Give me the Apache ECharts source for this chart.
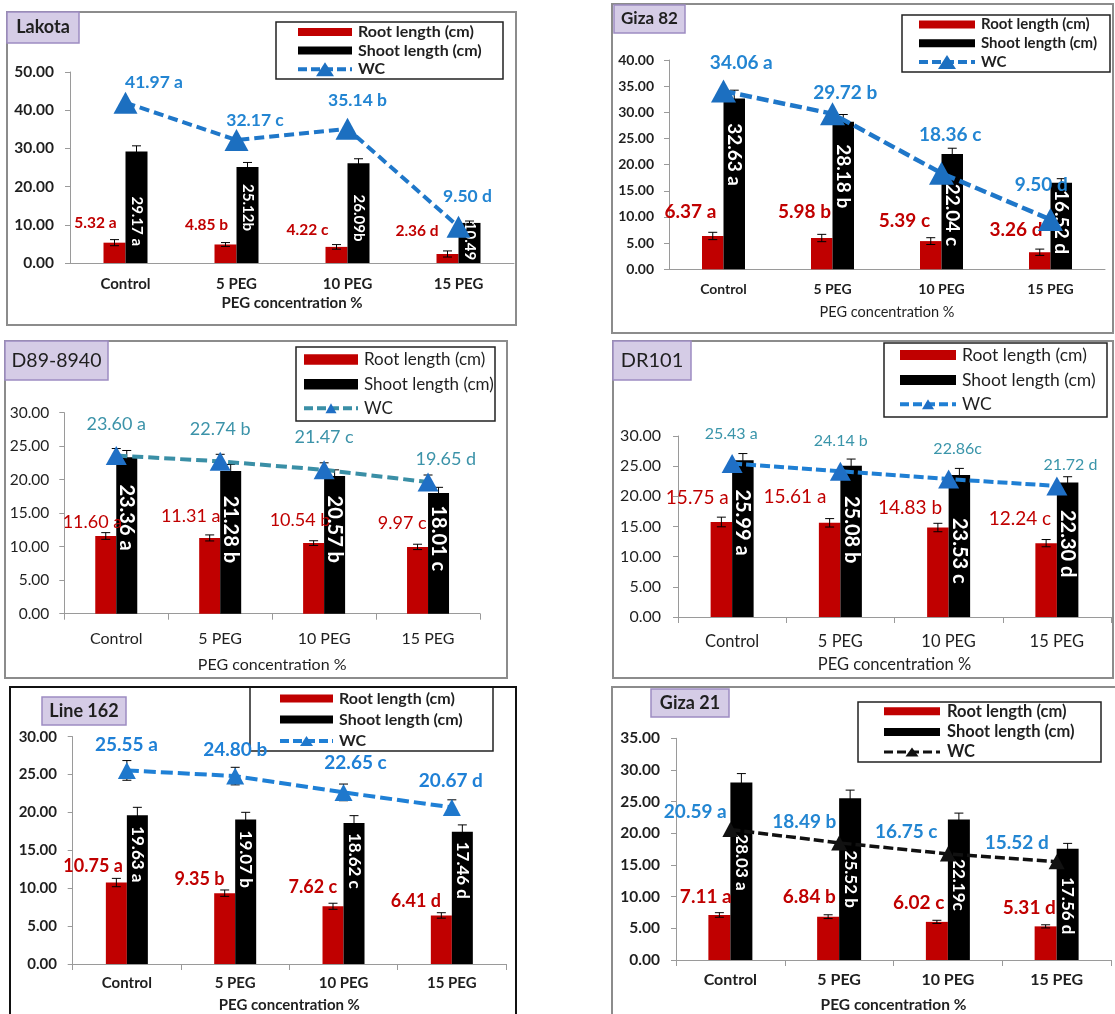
<!DOCTYPE html>
<html>
<head>
<meta charset="utf-8">
<title>Root length, shoot length and WC under PEG</title>
<script src="https://cdn.jsdelivr.net/npm/echarts/dist/echarts.min.js"></script>
<style>
  html, body { margin: 0; padding: 0; background: #fff; }
  #chart { width: 1115px; height: 1014px; }
</style>
</head>
<body>
<div id="chart"></div>
<script>
var FONT = 'Lato, "Open Sans", "Liberation Sans", sans-serif';
var RED = '#c00000';
var AXIS = '#9a9a9a';
var INK = '#1f1f1f';

// ---- data ----
var categories = ['Control', '5 PEG', '10 PEG', '15 PEG'];
var xAxisName = 'PEG concentration %';
var seriesNames = ['Root length (cm)', 'Shoot length (cm)', 'WC'];

var lakotaRoot = [5.32, 4.85, 4.22, 2.36];
var lakotaShoot = [29.17, 25.12, 26.09, 10.49];
var lakotaWC = [41.97, 32.17, 35.14, 9.50];
var lakotaRootErr = [0.8, 0.5, 0.6, 0.8];
var lakotaShootErr = [1.5, 1.2, 1.2, 0.5];
var lakotaRootSig = [' a', ' b', ' c', ' d'];
var lakotaShootSig = [' a', 'b', 'b', ''];
var lakotaWCSig = [' a', ' c', ' b', ' d'];

var giza82Root = [6.37, 5.98, 5.39, 3.26];
var giza82Shoot = [32.63, 28.18, 22.04, 16.52];
var giza82WC = [34.06, 29.72, 18.36, 9.50];
var giza82RootErr = [0.7, 0.7, 0.65, 0.6];
var giza82ShootErr = [1.6, 1.4, 1.1, 0.8];
var giza82RootSig = [' a', ' b', ' c', ' d'];
var giza82ShootSig = [' a', ' b', ' c', ' d'];
var giza82WCSig = [' a', ' b', ' c', ' d'];

var d89Root = [11.60, 11.31, 10.54, 9.97];
var d89Shoot = [23.36, 21.28, 20.57, 18.01];
var d89WC = [23.60, 22.74, 21.47, 19.65];
var d89RootErr = [0.5, 0.45, 0.35, 0.4];
var d89ShootErr = [1.0, 1.0, 0.9, 0.85];
var d89WCErr = [1.05, 1.05, 1.05, 1.05];
var d89RootSig = [' a', ' a', ' b', ' c'];
var d89ShootSig = [' a', ' b', ' b', ' c'];
var d89WCSig = [' a', ' b', ' c', ' d'];

var dr101Root = [15.75, 15.61, 14.83, 12.24];
var dr101Shoot = [25.99, 25.08, 23.53, 22.30];
var dr101WC = [25.43, 24.14, 22.86, 21.72];
var dr101RootErr = [0.8, 0.7, 0.7, 0.6];
var dr101ShootErr = [1.1, 1.1, 1.1, 0.95];
var dr101RootSig = [' a', ' a', ' b', ' c'];
var dr101ShootSig = [' a', ' b', ' c', ' d'];
var dr101WCSig = [' a', ' b', 'c', ' d'];

var line162Root = [10.75, 9.35, 7.62, 6.41];
var line162Shoot = [19.63, 19.07, 18.62, 17.46];
var line162WC = [25.55, 24.80, 22.65, 20.67];
var line162RootErr = [0.55, 0.42, 0.4, 0.36];
var line162ShootErr = [1.05, 0.95, 0.96, 0.9];
var line162WCErr = [1.3, 1.16, 1.1, 1.0];
var line162RootSig = [' a', ' b', ' c', ' d'];
var line162ShootSig = [' a', ' b', ' c', ' d'];
var line162WCSig = [' a', ' b', ' c', ' d'];

var giza21Root = [7.11, 6.84, 6.02, 5.31];
var giza21Shoot = [28.03, 25.52, 22.19, 17.56];
var giza21WC = [20.59, 18.49, 16.75, 15.52];
var giza21RootErr = [0.36, 0.3, 0.25, 0.25];
var giza21ShootErr = [1.4, 1.3, 1.0, 0.85];
var giza21RootSig = [' a', ' b', ' c', ' d'];
var giza21ShootSig = [' a', ' b', 'c', ' d'];
var giza21WCSig = [' a', ' b', ' c', ' d'];

// ---- panel layout ----
var panels = [
  {
    title: 'Lakota', root: lakotaRoot, shoot: lakotaShoot, wc: lakotaWC,
    rootErr: lakotaRootErr, shootErr: lakotaShootErr, wcErr: null,
    rootSig: lakotaRootSig, shootSig: lakotaShootSig, wcSig: lakotaWCSig,
    yMax: 50, yStep: 10,
    frame: [7, 12, 509, 313], frameColor: '#8c8c8c',
    titleBox: [7, 12, 72, 31], titleFont: 18, titleWeight: 'bold',
    grid: [70, 72, 444, 191],
    yFont: 15.5, yWeight: 'bold', yMargin: 16,
    xFont: 15, xWeight: 'bold', xMargin: 13.5, xTicks: false,
    nameFont: 15, nameWeight: 'bold', nameGap: 32.5,
    barW: 22,
    wcLine: '#1f77c9', wcMarker: '#1c6fc0', wcText: '#2385d2', wcWidth: 4, wcDash: [10, 5], sym: [24, 22],
    wcFont: 17.5, wcWeight: 'bold', wcOff: [[28.5, -20.4], [18.5, -20], [10, -28], [9, -30]],
    rootFont: 15.5, rootWeight: 'bold', rootOff: [[-19, -20], [-19, -19], [-29, -17], [-30.5, -23]],
    shootFont: 15, shootDy: [69.7, 40.5, 54.7, 18],
    legBox: [276, 22, 227, 57], legX: 298, legW: 54, legH: 8, legRows: [32, 50.5, 69.3], legTextX: 358,
    legFont: 16, legWeight: 'bold', legTri: [18, 14], legDash: [9, 4], legLineW: 4
  },
  {
    title: 'Giza 82', root: giza82Root, shoot: giza82Shoot, wc: giza82WC,
    rootErr: giza82RootErr, shootErr: giza82ShootErr, wcErr: null,
    rootSig: giza82RootSig, shootSig: giza82ShootSig, wcSig: giza82WCSig,
    yMax: 40, yStep: 5,
    frame: [612, 4, 501, 329], frameColor: '#8c8c8c',
    titleBox: [614, 5, 71, 28], titleFont: 17, titleWeight: 'bold',
    grid: [669, 60, 436, 209.3],
    yFont: 14, yWeight: 'bold', yMargin: 15,
    xFont: 14, xWeight: 'bold', xMargin: 13, xTicks: false,
    nameFont: 14.5, nameWeight: 'normal', nameGap: 35.7,
    barW: 21.5,
    wcLine: '#1f77c9', wcMarker: '#1c6fc0', wcText: '#2385d2', wcWidth: 4.5, wcDash: [12, 5], sym: [25, 23],
    wcFont: 19, wcWeight: 'bold', wcOff: [[17.8, -27.8], [12.7, -20.5], [8.7, -38.2], [-9.2, -34.6]],
    rootFont: 19, rootWeight: 'bold', rootOff: [[-22.3, -24.3], [-17.2, -25.7], [-26.3, -20.4], [-23.8, -22.2]],
    shootFont: 19, shootDy: [56, 54.4, 61, 39.2],
    legBox: [902, 15, 208, 57], legX: 919, legW: 56, legH: 8, legRows: [24.5, 43.3, 62], legTextX: 981,
    legFont: 15, legWeight: 'bold', legTri: [18, 14], legDash: [9, 4], legLineW: 4
  },
  {
    title: 'D89-8940', root: d89Root, shoot: d89Shoot, wc: d89WC,
    rootErr: d89RootErr, shootErr: d89ShootErr, wcErr: d89WCErr,
    rootSig: d89RootSig, shootSig: d89ShootSig, wcSig: d89WCSig,
    yMax: 30, yStep: 5,
    frame: [5, 341, 502, 337], frameColor: '#8c8c8c',
    titleBox: [5, 341, 103, 39], titleFont: 19.5, titleWeight: 'normal',
    grid: [64.3, 412.7, 415.7, 201],
    yFont: 15.5, yWeight: 'normal', yMargin: 15,
    xFont: 16, xWeight: 'normal', xMargin: 17.6, xTicks: true,
    nameFont: 16, nameWeight: 'normal', nameGap: 43.3,
    barW: 21,
    wcLine: '#3a8fa6', wcMarker: '#1f6fc5', wcText: '#3c93a9', wcWidth: 4, wcDash: [11, 5], sym: [21, 19],
    wcFont: 18, wcWeight: 'normal', wcOff: [[0, -31.3], [0, -32], [0, -32.6], [17.8, -22.7]],
    rootFont: 18, rootWeight: 'normal', rootOff: [[-13.3, -13.3], [-19, -21.9], [-13.6, -23.1], [-15.3, -23.6]],
    shootFont: 20, shootDy: [60.3, 58.2, 53.4, 45.3],
    legBox: [296, 347, 199, 74], legX: 304, legW: 54, legH: 10.5, legRows: [359.5, 384.2, 408.3], legTextX: 364,
    legFont: 17, legWeight: 'normal', legTri: [11, 10], legDash: [9, 4], legLineW: 4
  },
  {
    title: 'DR101', root: dr101Root, shoot: dr101Shoot, wc: dr101WC,
    rootErr: dr101RootErr, shootErr: dr101ShootErr, wcErr: null,
    rootSig: dr101RootSig, shootSig: dr101ShootSig, wcSig: dr101WCSig,
    yMax: 30, yStep: 5,
    frame: [613, 341, 500, 337], frameColor: '#8c8c8c',
    titleBox: [613, 341, 78, 39], titleFont: 20, titleWeight: 'normal',
    grid: [678, 436, 433, 181],
    yFont: 16, yWeight: 'normal', yMargin: 17,
    xFont: 16.5, xWeight: 'normal', xMargin: 16.4, xTicks: true,
    nameFont: 16.5, nameWeight: 'normal', nameGap: 39,
    barW: 21.5,
    wcLine: '#1f7fd4', wcMarker: '#1f6fc5', wcText: '#3a95aa', wcWidth: 4, wcDash: [10, 4], sym: [21, 19],
    wcFont: 16, wcWeight: 'normal', wcOff: [[-1, -29.6], [0.4, -30.4], [9, -29.8], [13.6, -21]],
    rootFont: 19, rootWeight: 'normal', rootOff: [[-24.1, -23.7], [-34.7, -25.5], [-27.8, -19.2], [-26.2, -23.9]],
    shootFont: 20, shootDy: [62.3, 64, 75.8, 61.2],
    legBox: [884, 343, 223, 74], legX: 900, legW: 56, legH: 10, legRows: [355, 380, 404.3], legTextX: 962,
    legFont: 17.5, legWeight: 'normal', legTri: [12, 10], legDash: [9, 4], legLineW: 4
  },
  {
    title: 'Line 162', root: line162Root, shoot: line162Shoot, wc: line162WC,
    rootErr: line162RootErr, shootErr: line162ShootErr, wcErr: line162WCErr,
    rootSig: line162RootSig, shootSig: line162ShootSig, wcSig: line162WCSig,
    yMax: 30, yStep: 5,
    frame: [10, 687, 506, 340], frameColor: '#111111',
    titleBox: [42, 697, 84, 28], titleFont: 18, titleWeight: 'bold',
    grid: [72.7, 736.7, 433.3, 227.3],
    yFont: 15, yWeight: 'bold', yMargin: 15.7,
    xFont: 15, xWeight: 'bold', xMargin: 11.8, xTicks: true,
    nameFont: 15, nameWeight: 'bold', nameGap: 33.5,
    barW: 21,
    wcLine: '#1f80d6', wcMarker: '#1f78cc', wcText: '#1f80d6', wcWidth: 4, wcDash: [12, 5], sym: [18, 17],
    wcFont: 19, wcWeight: 'bold', wcOff: [[-0.5, -26], [0, -26], [12, -29.7], [-1, -26.7]],
    rootFont: 18, rootWeight: 'bold', rootOff: [[-23.3, -16.8], [-25.2, -14.1], [-20.2, -18.6], [-25.5, -14.4]],
    shootFont: 17, shootDy: [39, 39.7, 37.9, 38.6],
    legBox: [250, 687, 243, 64], legX: 280, legW: 53, legH: 8, legRows: [698.5, 719.5, 741], legTextX: 339,
    legFont: 16, legWeight: 'bold', legTri: [13, 10], legDash: [9, 4], legLineW: 4
  },
  {
    title: 'Giza 21', root: giza21Root, shoot: giza21Shoot, wc: giza21WC,
    rootErr: giza21RootErr, shootErr: giza21ShootErr, wcErr: null,
    rootSig: giza21RootSig, shootSig: giza21ShootSig, wcSig: giza21WCSig,
    yMax: 35, yStep: 5,
    frame: [612, 687, 510, 340], frameColor: '#8c8c8c',
    titleBox: [651, 689, 78, 28], titleFont: 18, titleWeight: 'bold',
    grid: [676, 738.3, 435, 221.7],
    yFont: 15.5, yWeight: 'bold', yMargin: 16,
    xFont: 16, xWeight: 'bold', xMargin: 12, xTicks: true,
    nameFont: 15.5, nameWeight: 'bold', nameGap: 37,
    barW: 22,
    wcLine: '#111111', wcMarker: '#111111', wcText: '#2386d2', wcWidth: 3.5, wcDash: [10, 4], sym: [16, 15],
    wcFont: 19, wcWeight: 'bold', wcOff: [[-35.1, -17.3], [-34.8, -21.2], [-41.6, -21.6], [-39.9, -18.4]],
    rootFont: 19, rootWeight: 'bold', rootOff: [[-13.6, -17.7], [-18.8, -19.4], [-18.2, -19.2], [-16.3, -18.7]],
    shootFont: 17, shootDy: [80, 80.8, 65.5, 57],
    legBox: [858, 702, 243, 60], legX: 884, legW: 56, legH: 8, legRows: [711.3, 732, 752], legTextX: 947,
    legFont: 16.5, legWeight: 'bold', legTri: [13, 9], legDash: [9, 4], legLineW: 3
  }
];

function fmt(v) { return v.toFixed(2); }

function errorSeries(k, values, errs, shift, z) {
  return {
    type: 'custom', xAxisIndex: k, yAxisIndex: k, z: z, silent: true,
    data: values.map(function (v, i) { return [i, v - errs[i], v + errs[i]]; }),
    encode: { x: 0, y: [1, 2] },
    renderItem: function (params, api) {
      var lo = api.coord([api.value(0), api.value(1)]);
      var hi = api.coord([api.value(0), api.value(2)]);
      var x = lo[0] + shift, cap = 4.5;
      var st = { stroke: '#000', lineWidth: 1 };
      return {
        type: 'group', children: [
          { type: 'line', shape: { x1: x, y1: lo[1], x2: x, y2: hi[1] }, style: st },
          { type: 'line', shape: { x1: x - cap, y1: hi[1], x2: x + cap, y2: hi[1] }, style: st },
          { type: 'line', shape: { x1: x - cap, y1: lo[1], x2: x + cap, y2: lo[1] }, style: st }
        ]
      };
    }
  };
}

function txt(x, y, s, size, weight, color, align, z) {
  return {
    type: 'text', x: x, y: y, z: z || 102, silent: true,
    style: { text: s, fill: color || INK, fontSize: size, fontWeight: weight, fontFamily: FONT,
             align: align || 'left', verticalAlign: 'middle' }
  };
}

var option = { animation: false, grid: [], xAxis: [], yAxis: [], series: [], graphic: [] };

panels.forEach(function (p, k) {
  option.grid.push({ left: p.grid[0], top: p.grid[1], width: p.grid[2], height: p.grid[3],
                     containLabel: false, outerBoundsMode: 'none' });
  option.xAxis.push({
    type: 'category', gridIndex: k, data: categories,
    axisLine: { lineStyle: { color: AXIS, width: 1 } },
    axisTick: { show: p.xTicks, length: 6, lineStyle: { color: AXIS } },
    axisLabel: { interval: 0, color: INK, fontSize: p.xFont, fontWeight: p.xWeight, fontFamily: FONT, margin: p.xMargin },
    name: xAxisName, nameLocation: 'middle', nameGap: p.nameGap,
    nameTextStyle: { color: INK, fontSize: p.nameFont, fontWeight: p.nameWeight, fontFamily: FONT }
  });
  option.yAxis.push({
    type: 'value', gridIndex: k, min: 0, max: p.yMax, interval: p.yStep,
    axisLine: { show: true, lineStyle: { color: AXIS, width: 1 } },
    axisTick: { show: true, length: 5, lineStyle: { color: AXIS } },
    splitLine: { show: false },
    axisLabel: { formatter: fmt, color: INK, fontSize: p.yFont, fontWeight: p.yWeight, fontFamily: FONT, margin: p.yMargin }
  });

  option.series.push({
    type: 'bar', name: seriesNames[0], xAxisIndex: k, yAxisIndex: k, z: 2,
    barWidth: p.barW, barGap: '0%',
    itemStyle: { color: RED },
    label: {
      show: true, position: ['50%', 0], align: 'center', verticalAlign: 'middle',
      color: RED, fontSize: p.rootFont, fontWeight: p.rootWeight, fontFamily: FONT,
      formatter: function (prm) { return fmt(prm.value) + p.rootSig[prm.dataIndex]; }
    },
    data: p.root.map(function (v, i) { return { value: v, label: { offset: p.rootOff[i] } }; })
  });
  option.series.push({
    type: 'bar', name: seriesNames[1], xAxisIndex: k, yAxisIndex: k, z: 2,
    barWidth: p.barW, barGap: '0%',
    itemStyle: { color: '#000' },
    label: {
      show: true, align: 'center', verticalAlign: 'middle', rotate: -90,
      color: '#fff', fontSize: p.shootFont, fontWeight: 'bold', fontFamily: FONT,
      formatter: function (prm) { return fmt(prm.value) + p.shootSig[prm.dataIndex]; }
    },
    data: p.shoot.map(function (v, i) { return { value: v, label: { position: ['50%', p.shootDy[i]] } }; })
  });
  option.series.push(errorSeries(k, p.root, p.rootErr, -p.barW / 2, 2.5));
  option.series.push(errorSeries(k, p.shoot, p.shootErr, p.barW / 2, 2.5));
  if (p.wcErr) option.series.push(errorSeries(k, p.wc, p.wcErr, 0, 2.8));
  option.series.push({
    type: 'line', name: seriesNames[2], xAxisIndex: k, yAxisIndex: k, z: 3,
    symbol: 'triangle', symbolSize: p.sym, showSymbol: true,
    itemStyle: { color: p.wcMarker },
    lineStyle: { color: p.wcLine, width: p.wcWidth, type: p.wcDash },
    label: {
      show: true, position: 'inside', align: 'center', verticalAlign: 'middle',
      color: p.wcText, fontSize: p.wcFont, fontWeight: p.wcWeight, fontFamily: FONT,
      formatter: function (prm) { return fmt(prm.value) + p.wcSig[prm.dataIndex]; }
    },
    emphasis: { disabled: true },
    data: p.wc.map(function (v, i) { return { value: v, label: { offset: p.wcOff[i] } }; })
  });

  // frame, title box, legend
  var g = option.graphic;
  g.push({ type: 'rect', z: 100, silent: true,
           shape: { x: p.frame[0], y: p.frame[1], width: p.frame[2], height: p.frame[3] },
           style: { fill: 'none', stroke: p.frameColor, lineWidth: 2 } });
  var tb = p.titleBox;
  g.push({ type: 'rect', z: 101, silent: true,
           shape: { x: tb[0], y: tb[1], width: tb[2], height: tb[3] },
           style: { fill: '#d5cce6', stroke: '#9d8cc2', lineWidth: 1.5 } });
  g.push(txt(tb[0] + tb[2] / 2, tb[1] + tb[3] / 2, p.title, p.titleFont, p.titleWeight, INK, 'center'));

  var lb = p.legBox;
  g.push({ type: 'rect', z: 1, silent: true,
           shape: { x: lb[0], y: lb[1], width: lb[2], height: lb[3] },
           style: { fill: '#fff', stroke: '#222', lineWidth: 1.5 } });
  var r = p.legRows;
  g.push({ type: 'rect', z: 1, silent: true,
           shape: { x: p.legX, y: r[0] - p.legH / 2, width: p.legW, height: p.legH }, style: { fill: RED } });
  g.push({ type: 'rect', z: 1, silent: true,
           shape: { x: p.legX, y: r[1] - p.legH / 2, width: p.legW, height: p.legH }, style: { fill: '#000' } });
  g.push({ type: 'line', z: 1, silent: true,
           shape: { x1: p.legX, y1: r[2], x2: p.legX + p.legW, y2: r[2] },
           style: { stroke: p.wcLine, lineWidth: p.legLineW, lineDash: p.legDash } });
  var cx = p.legX + p.legW / 2, tw = p.legTri[0] / 2, th = p.legTri[1] / 2;
  g.push({ type: 'polygon', z: 1, silent: true,
           shape: { points: [[cx, r[2] - th], [cx + tw, r[2] + th], [cx - tw, r[2] + th]] },
           style: { fill: p.wcMarker } });
  for (var j = 0; j < 3; j++) {
    g.push(txt(p.legTextX, r[j], seriesNames[j], p.legFont, p.legWeight, INK, 'left', 1));
  }
});

var chart = echarts.init(document.getElementById('chart'));
chart.setOption(option);
</script>
</body>
</html>
